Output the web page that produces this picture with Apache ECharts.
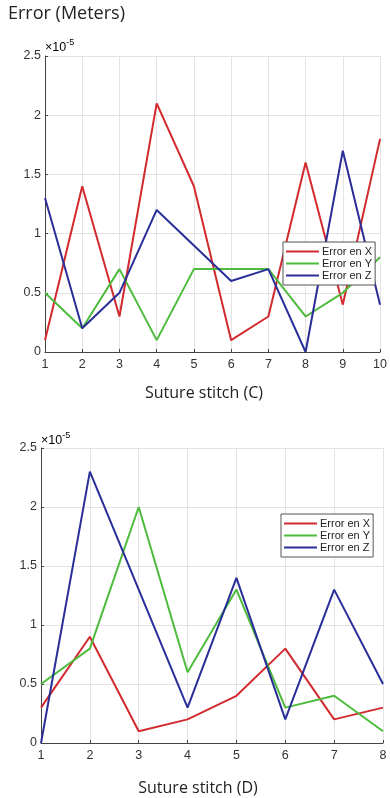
<!DOCTYPE html>
<html>
<head>
<meta charset="utf-8">
<script src="https://cdn.jsdelivr.net/npm/echarts@6/dist/echarts.min.js"></script>
<style>
html,body{margin:0;padding:0;background:#fff;}
#c{width:390px;height:798px;}
</style>
</head>
<body>
<div id="c"></div>
<script>
// values in units of 1e-5 meters
var stitchesC = [1, 2, 3, 4, 5, 6, 7, 8, 9, 10];
var errXC = [0.1, 1.4, 0.3, 2.1, 1.4, 0.1, 0.3, 1.6, 0.4, 1.8];
var errYC = [0.5, 0.2, 0.7, 0.1, 0.7, 0.7, 0.7, 0.3, 0.5, 0.8];
var errZC = [1.3, 0.2, 0.5, 1.2, 0.9, 0.6, 0.7, 0.0, 1.7, 0.4];

var stitchesD = [1, 2, 3, 4, 5, 6, 7, 8];
var errXD = [0.3, 0.9, 0.1, 0.2, 0.4, 0.8, 0.2, 0.3];
var errYD = [0.5, 0.8, 2.0, 0.6, 1.3, 0.3, 0.4, 0.1];
var errZD = [0.0, 2.3, 1.3, 0.3, 1.4, 0.2, 1.3, 0.5];

var seriesNames = ['Error en X', 'Error en Y', 'Error en Z'];
var colors = ['#d22a2e', '#4dbb3c', '#2a2e98'];

function pairs(xs, ys) { return xs.map(function (x, i) { return [x, ys[i]]; }); }

var chart = echarts.init(document.getElementById('c'));
var font = 'Liberation Sans, Arial, sans-serif';

function xAxis(gi, max) {
  return {
    type: 'value', gridIndex: gi, min: 1, max: max, interval: 1,
    axisLine: { show: true, onZero: false, lineStyle: { color: '#444', width: 1 } },
    axisTick: { show: true, inside: true, length: 3, lineStyle: { color: '#444' } },
    axisLabel: { color: '#333', fontSize: 12.5, fontFamily: font, margin: 6 },
    splitLine: { show: true, lineStyle: { color: '#e3e3e3', width: 1 } }
  };
}
function yAxis(gi) {
  return {
    type: 'value', gridIndex: gi, min: 0, max: 2.5, interval: 0.5,
    axisLine: { show: true, lineStyle: { color: '#444', width: 1 } },
    axisTick: { show: true, inside: true, length: 3, lineStyle: { color: '#444' } },
    axisLabel: { color: '#333', fontSize: 12.5, fontFamily: font, margin: 4 },
    splitLine: { show: true, lineStyle: { color: '#e3e3e3', width: 1 } }
  };
}
function lineSeries(name, idx, gi, xs, ys) {
  return {
    name: name, type: 'line', xAxisIndex: gi, yAxisIndex: gi,
    data: pairs(xs, ys), showSymbol: false, symbol: 'none',
    lineStyle: { color: colors[idx], width: 2 }, itemStyle: { color: colors[idx] },
    animation: false
  };
}
function legend(left, top) {
  return {
    data: seriesNames.map(function (n, i) {
      return { name: n, icon: 'rect', itemStyle: { color: colors[i] } };
    }),
    orient: 'vertical', left: left, top: top,
    itemWidth: 33, itemHeight: 2, itemGap: 1,
    padding: [4, 3, 4, 3],
    backgroundColor: '#fff', borderColor: '#555', borderWidth: 1,
    textStyle: { fontSize: 11, fontFamily: font, color: '#222', padding: [0, 0, 0, -2] },
    selectedMode: false
  };
}
function sci(left, top) {
  return { type: 'text', left: left, top: top, style: { text: '{a|×10}{b|-5}', rich: {
    a: { fontSize: 12.5, fontFamily: font, color: '#333', verticalAlign: 'bottom' },
    b: { fontSize: 9, fontFamily: font, color: '#333', verticalAlign: 'top', padding: [0, 0, 7, 0] } } } };
}

chart.setOption({
  animation: false,
  grid: [
    { left: 45, top: 56, width: 340, height: 296 },
    { left: 41, top: 448, width: 342, height: 295 }
  ],
  xAxis: [xAxis(0, 10), xAxis(1, 8)],
  yAxis: [yAxis(0), yAxis(1)],
  legend: [legend(283, 242), legend(281, 514)],
  series: [
    lineSeries(seriesNames[0], 0, 0, stitchesC, errXC),
    lineSeries(seriesNames[1], 1, 0, stitchesC, errYC),
    lineSeries(seriesNames[2], 2, 0, stitchesC, errZC),
    lineSeries(seriesNames[0], 0, 1, stitchesD, errXD),
    lineSeries(seriesNames[1], 1, 1, stitchesD, errYD),
    lineSeries(seriesNames[2], 2, 1, stitchesD, errZD)
  ],
  graphic: [
    { type: 'text', left: 8, top: 5, style: { text: 'Error (Meters)', font: '18px "Open Sans", sans-serif', fill: '#222' } },
    sci(45, 38),
    sci(41, 431),
    { type: 'text', x: 204, y: 393, style: { text: 'Suture stitch (C)', font: '16px "Open Sans", sans-serif', fill: '#222', align: 'center', verticalAlign: 'middle' } },
    { type: 'text', x: 198, y: 788, style: { text: 'Suture stitch (D)', font: '16px "Open Sans", sans-serif', fill: '#222', align: 'center', verticalAlign: 'middle' } }
  ]
});
</script>
</body>
</html>
